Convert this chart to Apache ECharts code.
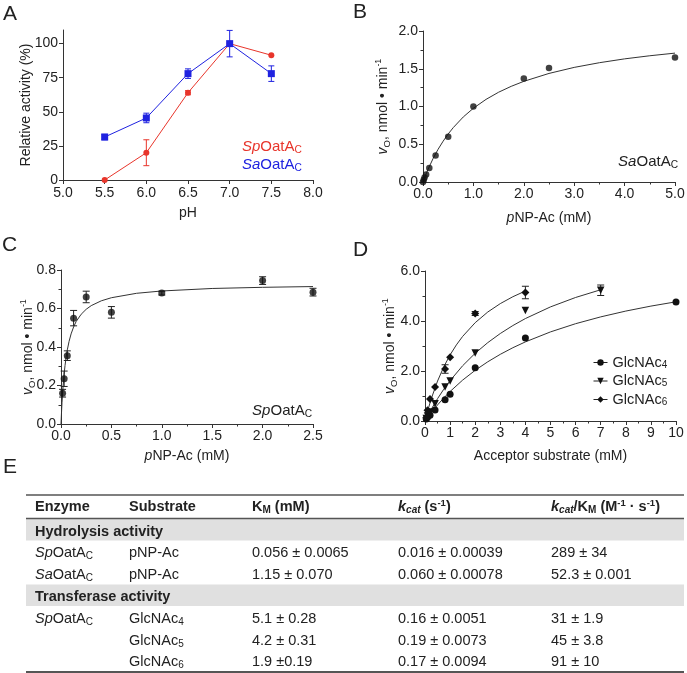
<!DOCTYPE html>
<html><head><meta charset="utf-8">
<script src="https://cdn.jsdelivr.net/npm/echarts@6/dist/echarts.min.js"></script>
<style>html,body{margin:0;padding:0;background:#fff}#c{width:687px;height:673px}</style>
</head><body><div id="c"></div><script>
// ---------- Panel A: pH profile ----------
const phValues = [5.5, 6.0, 6.5, 7.0, 7.5];
const spActivity = [0, 20, 64, 100, 91.5];
const spActivityErr = [0, 9.5, 1.5, 0, 0];
const saActivity = [31.5, 45.5, 78, 100, 78];
const saActivityErr = [2, 3.5, 3.5, 9.7, 5.7];
const phTicks = [5.0, 5.5, 6.0, 6.5, 7.0, 7.5, 8.0];
const activityTicks = [0, 25, 50, 75, 100];

// ---------- Panel B: SaOatAC, pNP-Ac ----------
const saSubstrate = [0, 0.0156, 0.03125, 0.0625, 0.125, 0.25, 0.5, 1.0, 2.0, 2.5, 5.0];
const saRate = [0, 0.03, 0.06, 0.1, 0.185, 0.35, 0.6, 1.0, 1.37, 1.51, 1.65];
const saFitX = [0, 0.05, 0.1, 0.2, 0.3, 0.4, 0.5, 0.6, 0.8, 1.0, 1.25, 1.5, 1.75, 2.0, 2.5, 3.0, 3.5, 4.0, 4.5, 5.0];
const saFitY = [0, 0.087, 0.168, 0.311, 0.434, 0.541, 0.636, 0.720, 0.862, 0.977, 1.094, 1.189, 1.267, 1.333, 1.438, 1.518, 1.580, 1.631, 1.672, 1.707];

// ---------- Panel C: SpOatAC, pNP-Ac ----------
const spSubstrate = [0.0156, 0.03125, 0.0625, 0.125, 0.25, 0.5, 1.0, 2.0, 2.5];
const spRate = [0.16, 0.235, 0.355, 0.55, 0.66, 0.58, 0.68, 0.745, 0.685];
const spRateErr = [0.02, 0.04, 0.025, 0.04, 0.03, 0.03, 0.01, 0.02, 0.02];
const spFitX = [0, 0.005, 0.01, 0.02, 0.03, 0.04, 0.05, 0.0625, 0.08, 0.1, 0.125, 0.15, 0.2, 0.25, 0.3, 0.4, 0.5, 0.75, 1.0, 1.5, 2.0, 2.5];
const spFitY = [0, 0.06, 0.111, 0.192, 0.255, 0.304, 0.344, 0.385, 0.429, 0.468, 0.504, 0.532, 0.570, 0.596, 0.615, 0.640, 0.656, 0.679, 0.691, 0.704, 0.710, 0.714];

// ---------- Panel D: acceptor substrates ----------
const acceptorNames = ['GlcNAc4', 'GlcNAc5', 'GlcNAc6'];
const glc4Conc = [0.05, 0.1, 0.2, 0.4, 0.8, 1.0, 2.0, 4.0, 10.0];
const glc4Rate = [0.08, 0.15, 0.23, 0.44, 0.85, 1.07, 2.13, 3.32, 4.76];
const glc4Err  = [0, 0, 0, 0, 0, 0, 0, 0, 0];
const glc5Conc = [0.05, 0.1, 0.2, 0.4, 0.8, 1.0, 2.0, 4.0, 7.0];
const glc5Rate = [0.1, 0.2, 0.36, 0.69, 1.36, 1.6, 2.72, 4.42, 5.23];
const glc5Err  = [0, 0, 0, 0, 0, 0, 0, 0, 0.21];
const glc6Conc = [0.05, 0.1, 0.2, 0.4, 0.8, 1.0, 2.0, 4.0];
const glc6Rate = [0.13, 0.43, 0.88, 1.36, 2.08, 2.55, 4.3, 5.14];
const glc6Err  = [0, 0, 0, 0, 0.17, 0, 0.08, 0.25];
const glc4FitX = [0, 0.25, 0.5, 0.75, 1, 1.5, 2, 2.5, 3, 3.5, 4, 5, 6, 7, 8, 9, 10];
const glc4FitY = [0, 0.336, 0.643, 0.923, 1.180, 1.636, 2.028, 2.368, 2.667, 2.931, 3.165, 3.564, 3.892, 4.165, 4.397, 4.596, 4.768];
const glc5FitX = [0, 0.25, 0.5, 0.75, 1, 1.5, 2, 2.5, 3, 3.5, 4, 5, 6, 7];
const glc5FitY = [0, 0.472, 0.894, 1.273, 1.615, 2.211, 2.710, 3.134, 3.5, 3.818, 4.098, 4.565, 4.941, 5.25];
const glc6FitX = [0, 0.1, 0.25, 0.5, 0.75, 1, 1.25, 1.5, 2, 2.5, 3, 3.5, 4];
const glc6FitY = [0, 0.384, 0.892, 1.598, 2.171, 2.645, 3.044, 3.384, 3.933, 4.359, 4.696, 4.971, 5.2];

// ---------- Panel E: kinetic table ----------
const tableHeader = ['Enzyme', 'Substrate', 'K{bsub|M} (mM)', '{bi|k}{bisub|cat} (s{bsup|-1})', '{bi|k}{bisub|cat}/K{bsub|M} (M{bsup|-1} · s{bsup|-1})'];
const hydrolysisTitle = 'Hydrolysis activity';
const hydrolysisRows = [
  ['{i|Sp}OatA{sub|C}', 'pNP-Ac', '0.056 ± 0.0065', '0.016 ± 0.00039', '289 ± 34'],
  ['{i|Sa}OatA{sub|C}', 'pNP-Ac', '1.15 ± 0.070', '0.060 ± 0.00078', '52.3 ± 0.001']
];
const transferaseTitle = 'Transferase activity';
const transferaseRows = [
  ['{i|Sp}OatA{sub|C}', 'GlcNAc{sub|4}', '5.1 ± 0.28', '0.16 ± 0.0051', '31 ± 1.9'],
  ['', 'GlcNAc{sub|5}', '4.2 ± 0.31', '0.19 ± 0.0073', '45 ± 3.8'],
  ['', 'GlcNAc{sub|6}', '1.9 ±0.19', '0.17 ± 0.0094', '91 ± 10']
];

// ================= rendering =================
const FF = '"Liberation Sans", Arial, Helvetica, sans-serif';
const TXT = '#222';
const AX = '#333';
const RED = '#e8352b';
const BLUE = '#1f22e0';
const zip = (xs, ys) => xs.map((x, i) => [x, ys[i]]);

const rich = {
  i:    {fontStyle: 'italic', fontSize: 14, fontFamily: FF, color: TXT},
  sub:  {fontSize: 9.5, fontFamily: FF, color: TXT, verticalAlign: 'bottom', lineHeight: 11},
  sup:  {fontSize: 9, fontFamily: FF, color: TXT, verticalAlign: 'top', lineHeight: 10}
};
const nameStyle = {fontSize: 14, fontFamily: FF, color: TXT, lineHeight: 18, rich: rich};

function valAxis(o) {
  const ax = {
    type: 'value', gridIndex: o.grid, min: o.min, max: o.max, interval: o.interval,
    axisLine: {show: true, onZero: false, lineStyle: {color: AX, width: 1}},
    axisTick: {show: true, length: 4, lineStyle: {color: AX, width: 1}},
    minorTick: {show: !!o.minor, splitNumber: 2, length: 2.5, lineStyle: {color: AX, width: 1}},
    splitLine: {show: false}, minorSplitLine: {show: false},
    axisLabel: {fontSize: 14, fontFamily: FF, color: TXT, margin: o.margin || 5,
                formatter: o.fmt || (v => String(v))},
    name: o.name, nameLocation: 'middle', nameGap: o.nameGap, nameTextStyle: nameStyle,
    nameMoveOverlap: false
  };
  if (o.custom) {
    ax.axisTick.customValues = o.custom;
    ax.axisLabel.customValues = o.custom;
  }
  return ax;
}
const f1 = v => v.toFixed(1);

function errorBars(xs, ys, errs, color, xi, w) {
  const data = [];
  xs.forEach((x, i) => { if (errs[i] > 0) data.push([x, ys[i] - errs[i], ys[i] + errs[i]]); });
  return {
    type: 'custom', xAxisIndex: xi, yAxisIndex: xi, data: data, encode: {x: 0, y: [1, 2]},
    z: 2, silent: true, clip: false,
    renderItem: function (params, api) {
      const x = api.value(0);
      const p1 = api.coord([x, api.value(2)]);
      const p2 = api.coord([x, api.value(1)]);
      const st = {stroke: color, lineWidth: 1};
      return {type: 'group', children: [
        {type: 'line', shape: {x1: p1[0], y1: p1[1], x2: p2[0], y2: p2[1]}, style: st},
        {type: 'line', shape: {x1: p1[0] - w, y1: p1[1], x2: p1[0] + w, y2: p1[1]}, style: st},
        {type: 'line', shape: {x1: p2[0] - w, y1: p2[1], x2: p2[0] + w, y2: p2[1]}, style: st}
      ]};
    }
  };
}
function fitCurve(xs, ys, xi) {
  return {type: 'line', xAxisIndex: xi, yAxisIndex: xi, data: zip(xs, ys), smooth: false,
          showSymbol: false, symbol: 'none', silent: true, z: 1,
          lineStyle: {color: '#333', width: 1}};
}

const TRI_DOWN = 'path://M0,0L10,0L5,9Z';
const DIAMOND = 'path://M5,0L10,5L5,10L0,5Z';

const series = [
  // A
  errorBars(phValues, spActivity, spActivityErr, RED, 0, 3),
  {type: 'line', name: 'SpA', xAxisIndex: 0, yAxisIndex: 0, data: zip(phValues, spActivity),
   symbol: 'circle', symbolSize: 6, lineStyle: {color: RED, width: 1}, itemStyle: {color: RED}, z: 3},
  errorBars(phValues, saActivity, saActivityErr, BLUE, 0, 3),
  {type: 'line', name: 'SaA', xAxisIndex: 0, yAxisIndex: 0, data: zip(phValues, saActivity),
   symbol: 'rect', symbolSize: 7, lineStyle: {color: BLUE, width: 1}, itemStyle: {color: BLUE}, z: 4},
  // B
  fitCurve(saFitX, saFitY, 1),
  {type: 'scatter', xAxisIndex: 1, yAxisIndex: 1, data: zip(saSubstrate, saRate),
   symbol: 'circle', symbolSize: 6.5, itemStyle: {color: '#111'}, z: 3},
  // C
  fitCurve(spFitX, spFitY, 2),
  errorBars(spSubstrate, spRate, spRateErr, '#222', 2, 3.5),
  {type: 'scatter', xAxisIndex: 2, yAxisIndex: 2, data: zip(spSubstrate, spRate),
   symbol: 'circle', symbolSize: 7, itemStyle: {color: '#111'}, z: 3},
  // D
  fitCurve(glc4FitX, glc4FitY, 3),
  fitCurve(glc5FitX, glc5FitY, 3),
  fitCurve(glc6FitX, glc6FitY, 3),
  errorBars(glc4Conc, glc4Rate, glc4Err, '#222', 3, 3.5),
  errorBars(glc5Conc, glc5Rate, glc5Err, '#222', 3, 3.5),
  errorBars(glc6Conc, glc6Rate, glc6Err, '#222', 3, 3.5),
  {type: 'line', name: acceptorNames[0], xAxisIndex: 3, yAxisIndex: 3, data: zip(glc4Conc, glc4Rate),
   symbol: 'circle', symbolSize: 7, lineStyle: {opacity: 0}, itemStyle: {color: '#111'}, z: 3},
  {type: 'line', name: acceptorNames[1], xAxisIndex: 3, yAxisIndex: 3, data: zip(glc5Conc, glc5Rate),
   symbol: TRI_DOWN, symbolSize: 7.5, lineStyle: {opacity: 0}, itemStyle: {color: '#111'}, z: 3},
  {type: 'line', name: acceptorNames[2], xAxisIndex: 3, yAxisIndex: 3, data: zip(glc6Conc, glc6Rate),
   symbol: DIAMOND, symbolSize: 8, lineStyle: {opacity: 0}, itemStyle: {color: '#111'}, z: 3}
];

// ---------- graphics: panel letters, in-plot labels, table ----------
const graphics = [];
function txt(x, y, text, opt) {
  opt = opt || {};
  graphics.push({type: 'text', x: x, y: y, z: 10, silent: true, style: Object.assign({
    text: text, fontSize: 14, fontFamily: FF, fill: TXT, verticalAlign: 'middle', align: 'left'
  }, opt)});
}
[['A', 3, 14], ['B', 353, 12], ['C', 2, 245], ['D', 353, 250], ['E', 3, 467]].forEach(l =>
  txt(l[1], l[2], l[0], {fontSize: 21}));

function labelRich(color, size) {
  return {
    i: {fontStyle: 'italic', fontSize: size, fontFamily: FF, fill: color},
    n: {fontSize: size, fontFamily: FF, fill: color},
    sub: {fontSize: size * 0.68, fontFamily: FF, fill: color, verticalAlign: 'bottom', lineHeight: 11}
  };
}
txt(242, 147, '{i|Sp}{n|OatA}{sub|C}', {fill: RED, lineHeight: 16, rich: labelRich(RED, 15)});
txt(242, 165, '{i|Sa}{n|OatA}{sub|C}', {fill: BLUE, lineHeight: 16, rich: labelRich(BLUE, 15)});
txt(678, 162, '{i|Sa}{n|OatA}{sub|C}', {align: 'right', lineHeight: 16, rich: labelRich(TXT, 15)});
txt(312, 411, '{i|Sp}{n|OatA}{sub|C}', {align: 'right', lineHeight: 16, rich: labelRich(TXT, 15)});

// table
const TL = 26, TR = 684;
const colX = [35, 129, 252, 398, 551];
const TS = 14.5;
const tRich = {
  i: {fontStyle: 'italic', fontSize: TS, fontFamily: FF, fill: TXT},
  sub: {fontSize: 10, fontFamily: FF, fill: TXT, verticalAlign: 'bottom', lineHeight: 11},
  bsub: {fontSize: 10, fontWeight: 'bold', fontFamily: FF, fill: TXT, verticalAlign: 'bottom', lineHeight: 11},
  bsup: {fontSize: 9.5, fontWeight: 'bold', fontFamily: FF, fill: TXT, verticalAlign: 'top', lineHeight: 10},
  bi: {fontStyle: 'italic', fontWeight: 'bold', fontSize: TS, fontFamily: FF, fill: TXT},
  bisub: {fontStyle: 'italic', fontWeight: 'bold', fontSize: 10, fontFamily: FF, fill: TXT, verticalAlign: 'bottom', lineHeight: 11}
};
function band(y0, y1) {
  graphics.push({type: 'rect', z: 0, silent: true, shape: {x: TL, y: y0, width: TR - TL, height: y1 - y0},
                 style: {fill: '#e0e0e0'}});
}
function hline(y, w, c) {
  graphics.push({type: 'line', z: 1, silent: true, shape: {x1: TL, y1: y, x2: TR, y2: y},
                 style: {stroke: c, lineWidth: w}});
}
band(519, 540.5);
band(584.5, 606);
hline(495, 1.5, '#555');
hline(518.5, 1.5, '#555');
hline(672, 2.2, '#555');
function row(cells, y, bold) {
  cells.forEach((c, k) => {
    if (c) txt(colX[k], y, c, {fontSize: TS, fontWeight: bold ? 'bold' : 'normal', lineHeight: 17, rich: tRich});
  });
}
row(tableHeader, 507, true);
txt(colX[0], 531.5, hydrolysisTitle, {fontSize: TS, fontWeight: 'bold'});
hydrolysisRows.forEach((r, k) => row(r, [553, 575][k], false));
txt(colX[0], 596.5, transferaseTitle, {fontSize: TS, fontWeight: 'bold'});
transferaseRows.forEach((r, k) => row(r, [618.5, 641, 662][k], false));

const yName = '{i|v}{sub|O}, nmol • min{sup|-1}';
const xName = '{i|p}NP-Ac (mM)';

const option = {
  animation: false,
  backgroundColor: '#fff',
  textStyle: {fontFamily: FF},
  grid: [
    {left: 63, top: 30, width: 250, height: 150, outerBoundsMode: 'none', containLabel: false},
    {left: 423, top: 31, width: 252, height: 151, outerBoundsMode: 'none', containLabel: false},
    {left: 61, top: 270, width: 252, height: 154, outerBoundsMode: 'none', containLabel: false},
    {left: 425, top: 271, width: 251, height: 150, outerBoundsMode: 'none', containLabel: false}
  ],
  xAxis: [
    valAxis({grid: 0, min: 5.0, max: 8.0, interval: 0.5, fmt: f1, margin: 6, name: 'pH', nameGap: 24, custom: phTicks}),
    valAxis({grid: 1, min: 0, max: 5, interval: 1, fmt: f1, minor: true, margin: 5, name: xName, nameGap: 27}),
    valAxis({grid: 2, min: 0, max: 2.5, interval: 0.5, fmt: f1, minor: true, margin: 5, name: xName, nameGap: 23}),
    valAxis({grid: 3, min: 0, max: 10, interval: 1, minor: true, margin: 5, name: 'Acceptor substrate (mM)', nameGap: 26})
  ],
  yAxis: [
    valAxis({grid: 0, min: 0, max: 110, interval: 25, name: 'Relative activity (%)', nameGap: 27.5, custom: activityTicks}),
    valAxis({grid: 1, min: 0, max: 2, interval: 0.5, fmt: f1, minor: true, name: yName, nameGap: 31}),
    valAxis({grid: 2, min: 0, max: 0.8, interval: 0.2, fmt: f1, minor: true, name: yName, nameGap: 23.5}),
    valAxis({grid: 3, min: 0, max: 6, interval: 2, fmt: f1, minor: true, name: yName, nameGap: 26})
  ],
  legend: {
    show: true, orient: 'vertical', left: 588, top: 350, itemWidth: 14, itemHeight: 8, itemGap: 3.5,
    data: acceptorNames, selectedMode: false,
    formatter: n => n.replace(/(\d)$/, '{sub|$1}'),
    textStyle: {fontSize: 14.5, fontFamily: FF, color: TXT, lineHeight: 15,
      rich: {sub: {fontSize: 10, fontFamily: FF, color: TXT, verticalAlign: 'bottom', lineHeight: 10}}},
    lineStyle: {opacity: 1, width: 1, color: '#222'},
    itemStyle: {color: '#111'}
  },
  series: series,
  graphic: graphics
};

const chart = echarts.init(document.getElementById('c'), null, {renderer: 'canvas'});
chart.setOption(option);
</script></body></html>
